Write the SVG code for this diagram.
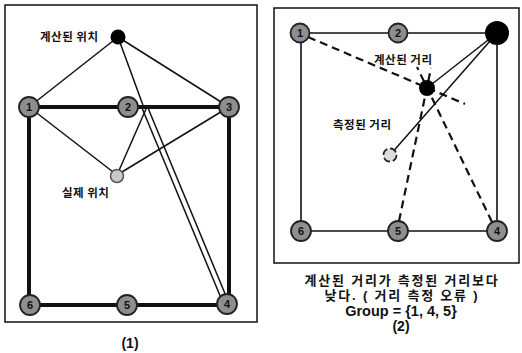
<svg xmlns="http://www.w3.org/2000/svg" width="522" height="353" viewBox="0 0 522 353">
<style>
.frame{fill:none;stroke:#111;stroke-width:1.5}
.thick{stroke:#111;stroke-width:4;fill:none}
.thin{stroke:#111;stroke-width:1.5;fill:none}
.sq{stroke:#111;stroke-width:1.6;fill:none}
.dash{stroke:#111;stroke-width:2.2;fill:none;stroke-dasharray:8 5}
.node{fill:#8e8e8e;stroke:#222;stroke-width:1.8}
.num{font-family:"Liberation Sans",Arial,sans-serif;font-size:11px;font-weight:bold;fill:#111;text-anchor:middle}
.lbl{font-family:"Noto Sans CJK KR","Noto Sans",sans-serif;font-size:11.5px;font-weight:bold;fill:#111;letter-spacing:0.5px}
.cap{font-family:"Liberation Sans","Noto Sans CJK KR",sans-serif;font-size:14px;font-weight:bold;fill:#111;text-anchor:middle}
.kr{font-size:13px;letter-spacing:1.8px}
</style>
<rect width="522" height="353" fill="#fff"/>
<rect class="frame" x="5" y="5" width="252" height="317"/>
<rect class="frame" x="274" y="8" width="245" height="255"/>
<g id="connectors">
<path class="thick" d="M29 107 H229 V305 H29 Z"/>
<line class="thin" x1="118" y1="37" x2="29" y2="107"/>
<line class="thin" x1="118" y1="37" x2="229" y2="107"/>
<line class="thin" x1="118" y1="37" x2="144" y2="108"/>
<line class="thin" x1="142" y1="108" x2="221" y2="298"/>
<line class="thin" x1="148" y1="108" x2="226" y2="296"/>
<line class="thin" x1="117" y1="175" x2="29" y2="107"/>
<line class="thin" x1="117" y1="175" x2="146" y2="109"/>
<line class="thin" x1="117" y1="175" x2="229" y2="107"/>
<path class="sq" d="M301 33 H497 V231 H301 Z"/>
<line class="thin" x1="497" y1="33" x2="427" y2="88"/>
<line class="thin" x1="497" y1="33" x2="390" y2="155"/>
<line class="dash" x1="308" y1="37" x2="465" y2="104"/>
<line class="dash" x1="399" y1="221" x2="431" y2="68"/>
<line class="dash" x1="492" y1="222" x2="417" y2="67"/>
</g>
<g id="p1-node1"><circle class="node" cx="29" cy="107" r="10"/><text class="num" x="29" y="111">1</text></g>
<g id="p1-node2"><circle class="node" cx="128" cy="107" r="10"/><text class="num" x="128" y="111">2</text></g>
<g id="p1-node3"><circle class="node" cx="229" cy="107" r="10"/><text class="num" x="229" y="111">3</text></g>
<g id="p1-node4"><circle class="node" cx="227" cy="304" r="10"/><text class="num" x="227" y="308">4</text></g>
<g id="p1-node5"><circle class="node" cx="127" cy="305" r="10"/><text class="num" x="127" y="309">5</text></g>
<g id="p1-node6"><circle class="node" cx="30" cy="305" r="10"/><text class="num" x="30" y="309">6</text></g>
<g id="p1-calc"><circle cx="118" cy="37" r="7.5" fill="#000"/><text class="lbl" x="40" y="41">계산된 위치</text></g>
<g id="p1-actual"><circle cx="117" cy="176" r="6.5" fill="#c8c8c8" stroke="#555" stroke-width="1.5"/><text class="lbl" x="62" y="197">실제 위치</text></g>
<g id="p2-node1"><circle class="node" cx="300" cy="33" r="9.5"/><text class="num" x="300" y="37">1</text></g>
<g id="p2-node2"><circle class="node" cx="398" cy="33" r="9.5"/><text class="num" x="398" y="37">2</text></g>
<g id="p2-node3"><circle cx="497" cy="33" r="12" fill="#000"/></g>
<g id="p2-node4"><circle class="node" cx="497" cy="231" r="10"/><text class="num" x="497" y="235">4</text></g>
<g id="p2-node5"><circle class="node" cx="398" cy="231" r="10"/><text class="num" x="398" y="235">5</text></g>
<g id="p2-node6"><circle class="node" cx="301" cy="231" r="10"/><text class="num" x="301" y="235">6</text></g>
<g id="p2-calc"><circle cx="427" cy="88" r="8" fill="#000"/><text class="lbl" x="374" y="64">계산된 거리</text></g>
<g id="p2-actual"><circle cx="390" cy="155" r="6.5" fill="#ddd" stroke="#222" stroke-width="1.8" stroke-dasharray="7 3"/><text class="lbl" x="333" y="129">측정된 거리</text></g>
<g id="captions">
<text class="cap" x="130" y="348">(1)</text>
<text class="cap kr" x="402" y="285">계산된 거리가 측정된 거리보다</text>
<text class="cap kr" x="402" y="300">낮다. ( 거리 측정 오류 )</text>
<text class="cap" x="401" y="316" style="font-size:14.5px">Group = {1, 4, 5}</text>
<text class="cap" x="401" y="331">(2)</text>
</g>
</svg>
